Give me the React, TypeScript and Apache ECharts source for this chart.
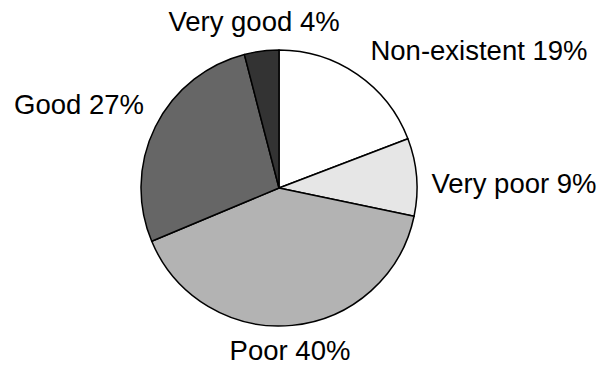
import React, { useEffect, useRef } from "react";
import * as echarts from "echarts";

const categories = ["Non-existent", "Very poor", "Poor", "Good", "Very good"];
const shares = [19, 9, 40, 27, 4];
const sliceColors = ["#ffffff", "#e6e6e6", "#b3b3b3", "#666666", "#333333"];
// label centres in pixels, one per slice
const labelCenters: [number, number][] = [
  [479, 50],
  [514, 183],
  [290, 350],
  [79, 104],
  [254, 21],
];

export default function App() {
  const ref = useRef<HTMLDivElement>(null);

  useEffect(() => {
    if (!ref.current) return;
    const chart = echarts.init(ref.current, null, { renderer: "svg" });
    chart.setOption({
      animation: false,
      backgroundColor: "#ffffff",
      series: [
        {
          type: "pie",
          center: [279, 188],
          radius: 138,
          startAngle: 90,
          clockwise: true,
          data: categories.map((name, i) => ({
            name,
            value: shares[i],
            itemStyle: { color: sliceColors[i] },
          })),
          itemStyle: { borderColor: "#000000", borderWidth: 1.5 },
          label: {
            show: true,
            position: "outside",
            formatter: (p: any) => `${p.name} ${p.value}%`,
            fontFamily: "Liberation Sans, Arial, sans-serif",
            fontSize: 27.5,
            color: "#000000",
            overflow: "none",
          },
          labelLine: { show: false },
          labelLayout: (params: any) => {
            const c = labelCenters[params.dataIndex];
            return { x: c[0], y: c[1], align: "center", verticalAlign: "middle" };
          },
          emphasis: { disabled: true },
        },
      ],
    });
    return () => chart.dispose();
  }, []);

  return (
    <div
      ref={ref}
      style={{ position: "fixed", left: 0, top: 0, width: 603, height: 367 }}
    />
  );
}
